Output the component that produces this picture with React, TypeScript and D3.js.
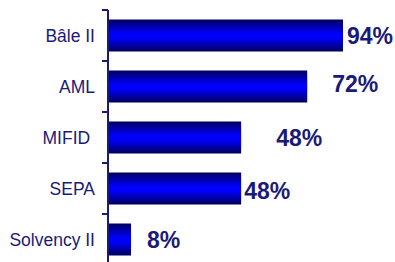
import React from 'react';
import * as d3 from 'd3';

const categories = ['Bâle II', 'AML', 'MIFID ', 'SEPA', 'Solvency II'];
const values = [94, 72, 48, 48, 8];
const valueLabels = ['94%', '72%', '48%', '48%', '8%'];

// label nudges (dx from bar end, dy from bar centre) as placed in the original slide
const labelNudge = [[4, 0], [25, -3], [35, 0], [3, 2], [16, 0]];

const W = 395;
const H = 262;
const navy = '#1a1a78';
const font = '"Liberation Sans", Arial, sans-serif';

const App = () => {
  const axisX = 108;
  // original axis stops a bit short of the top value, longest bar is clipped
  const x = d3.scaleLinear().domain([0, 85]).range([axisX + 1, 343]).clamp(true);
  const y = d3.scaleBand<string>().domain(categories).range([10, 265]).paddingInner(0);
  const barH = 32;

  return (
    <svg width={W} height={H} style={{ position: 'absolute', left: 0, top: 0, background: '#fff' }}>
      <defs>
        <linearGradient id="barGrad" x1="0" y1="0" x2="0" y2="1">
          <stop offset="0" stopColor="#00005e" />
          <stop offset="0.45" stopColor="#0000ff" />
          <stop offset="0.6" stopColor="#0000f5" />
          <stop offset="1" stopColor="#000058" />
        </linearGradient>
      </defs>

      {categories.map((c, i) => {
        const yc = (y(c) as number) + y.bandwidth() / 2;
        const x1 = x(values[i]);
        return (
          <g key={c}>
            <rect
              x={x(0)}
              y={yc - barH / 2}
              width={x1 - x(0)}
              height={barH}
              fill="url(#barGrad)"
            />
            <text
              x={95}
              y={yc}
              textAnchor="end"
              dominantBaseline="central"
              fontFamily={font}
              fontSize={17.5}
              fill={navy}
              style={{ whiteSpace: 'pre' }}
            >
              {c}
            </text>
            <text
              x={x1 + labelNudge[i][0]}
              y={yc + labelNudge[i][1]}
              dominantBaseline="central"
              fontFamily={font}
              fontSize={23}
              fontWeight="bold"
              fill={navy}
            >
              {valueLabels[i]}
            </text>
          </g>
        );
      })}

      {/* axis */}
      <line x1={axisX} x2={axisX} y1={y.range()[0]} y2={H} stroke={navy} strokeWidth={2} />
      {categories.map(c => (
        <line
          key={'t' + c}
          x1={axisX - 6}
          x2={axisX}
          y1={(y(c) as number)}
          y2={(y(c) as number)}
          stroke={navy}
          strokeWidth={2}
        />
      ))}
    </svg>
  );
};

export default App;
